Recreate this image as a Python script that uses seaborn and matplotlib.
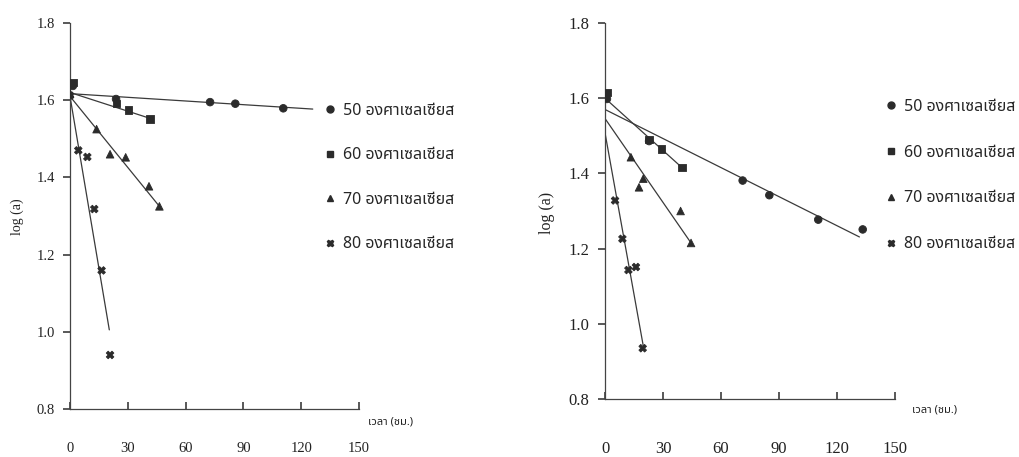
import numpy as np
import pandas as pd
import matplotlib
matplotlib.use("Agg")
import matplotlib.pyplot as plt
import seaborn as sns
from matplotlib.lines import Line2D

# ---------------- data ----------------
series_labels = ["50 องศาเซลเซียส", "60 องศาเซลเซียส", "70 องศาเซลเซียส", "80 องศาเซลเซียส"]
x_label = "เวลา (ชม.)"
y_label = "log (a)"
x_ticks = [0, 30, 60, 90, 120, 150]
y_ticks = [0.8, 1.0, 1.2, 1.4, 1.6, 1.8]

# left panel
left_t50 = [1.5, 23.9, 72.7, 85.8, 110.7]
left_y50 = [1.637, 1.603, 1.595, 1.591, 1.579]
left_t60 = [1.5, 24.2, 30.3, 41.5]
left_y60 = [1.646, 1.591, 1.575, 1.552]
left_t70 = [0.0, 13.8, 20.8, 28.9, 41.0, 46.4]
left_y70 = [1.618, 1.525, 1.460, 1.452, 1.377, 1.325]
left_t80 = [0.0, 4.3, 9.0, 12.6, 16.4, 20.8]
left_y80 = [1.612, 1.470, 1.453, 1.318, 1.159, 0.940]
left_fit_t = [[0, 126.0], [0, 41.5], [0, 46.4], [0, 20.4]]
left_fit_y = [[1.617, 1.577], [1.620, 1.553], [1.610, 1.325], [1.610, 1.005]]

# right panel
right_t50 = [1.0, 22.8, 71.2, 85.0, 110.3, 133.3]
right_y50 = [1.598, 1.486, 1.381, 1.342, 1.277, 1.251]
right_t60 = [1.0, 22.8, 29.3, 39.7]
right_y60 = [1.615, 1.490, 1.465, 1.416]
right_t70 = [0.0, 13.4, 17.6, 19.8, 39.1, 44.5]
right_y70 = [1.605, 1.443, 1.363, 1.386, 1.300, 1.215]
right_t80 = [0.0, 5.2, 9.0, 12.1, 16.0, 19.5]
right_y80 = [1.600, 1.328, 1.226, 1.143, 1.151, 0.935]
right_fit_t = [[0, 131.6], [0, 39.7], [0, 44.5], [0, 19.8]]
right_fit_y = [[1.570, 1.231], [1.600, 1.416], [1.546, 1.215], [1.508, 0.941]]

# ---------------- style ----------------
sns.set_theme(style="white")
plt.rcParams['font.family'] = ['Liberation Serif', 'DejaVu Serif']
thai_family = ['Noto Sans Thai', 'Loma', 'DejaVu Sans']

markers = ["o", "s", "^", "X"]
mcolor = "#2b2b2b"
lcolor = "#3a3a3a"


def build(ts, ys):
    rows = []
    for lab, t, y in zip(series_labels, ts, ys):
        for a, b in zip(t, y):
            rows.append({"t": a, "v": b, "s": lab})
    return pd.DataFrame(rows)


fig = plt.figure(figsize=(10.19, 4.57), dpi=100)
fig.patch.set_facecolor("white")

panels = [
    dict(rect=[70/1019, 48/457, 289/1019, 386/457],
         ts=[left_t50, left_t60, left_t70, left_t80],
         ys=[left_y50, left_y60, left_y70, left_y80],
         ft=left_fit_t, fy=left_fit_y, fs=10.5, pad=24, ls=1.78,
         leg=(324/1019, 1 - 103/457), xl=(368, 422), yl=(17, 217)),
    dict(rect=[605/1019, 58/457, 290/1019, 376/457],
         ts=[right_t50, right_t60, right_t70, right_t80],
         ys=[right_y50, right_y60, right_y70, right_y80],
         ft=right_fit_t, fy=right_fit_y, fs=12, pad=30, ls=1.86,
         leg=(885/1019, 1 - 99/457), xl=(912, 410), yl=(547, 213)),
]

for p in panels:
    ax = fig.add_axes(p["rect"])
    df = build(p["ts"], p["ys"])
    for lab, ft, fy in zip(series_labels, p["ft"], p["fy"]):
        sns.lineplot(x=ft, y=fy, ax=ax, color=lcolor, linewidth=0.9, legend=False)
    sns.scatterplot(data=df, x="t", y="v", style="s", markers=dict(zip(series_labels, markers)),
                    color=mcolor, s=30, edgecolor=mcolor, linewidth=0.6, ax=ax, legend=False, zorder=3)
    ax.set_xlim(0, 150)
    ax.set_ylim(0.8, 1.8)
    ax.set_xticks(x_ticks)
    ax.set_yticks(y_ticks)
    ax.set_yticklabels([f"{v:.1f}" for v in y_ticks])
    ax.set_xlabel("")
    ax.set_ylabel("")
    for s in ["top", "right"]:
        ax.spines[s].set_visible(False)
    for s in ["left", "bottom"]:
        ax.spines[s].set_color("#444444")
        ax.spines[s].set_linewidth(0.9)
    ax.tick_params(axis="x", direction="in", length=5, pad=p["pad"], labelsize=p["fs"], color="#444444",
                   bottom=True, labelcolor="#222222")
    ax.tick_params(axis="y", direction="out", length=5, pad=6, labelsize=p["fs"], color="#444444",
                   left=True, labelcolor="#222222")
    ax.set_facecolor("none")
    ax.grid(False)
    fig.text(p["xl"][0]/1019, 1 - p["xl"][1]/457, x_label, family=thai_family, fontsize=8,
             ha="left", va="center", color="#222222")
    fig.text(p["yl"][0]/1019, 1 - p["yl"][1]/457, y_label, fontsize=p["fs"] - 0.5, rotation=90,
             ha="center", va="center", color="#222222")
    handles = [Line2D([], [], linestyle="none", marker=m, color=mcolor, markersize=5) for m in markers]
    ax.legend(handles, series_labels, loc="upper left", bbox_to_anchor=p["leg"],
              bbox_transform=fig.transFigure, frameon=False, prop={"family": thai_family, "size": 11.5},
              labelspacing=p["ls"], handlelength=0.7, handletextpad=0.5, borderpad=0, borderaxespad=0)

fig.savefig("out.png", dpi=100, facecolor="white")
